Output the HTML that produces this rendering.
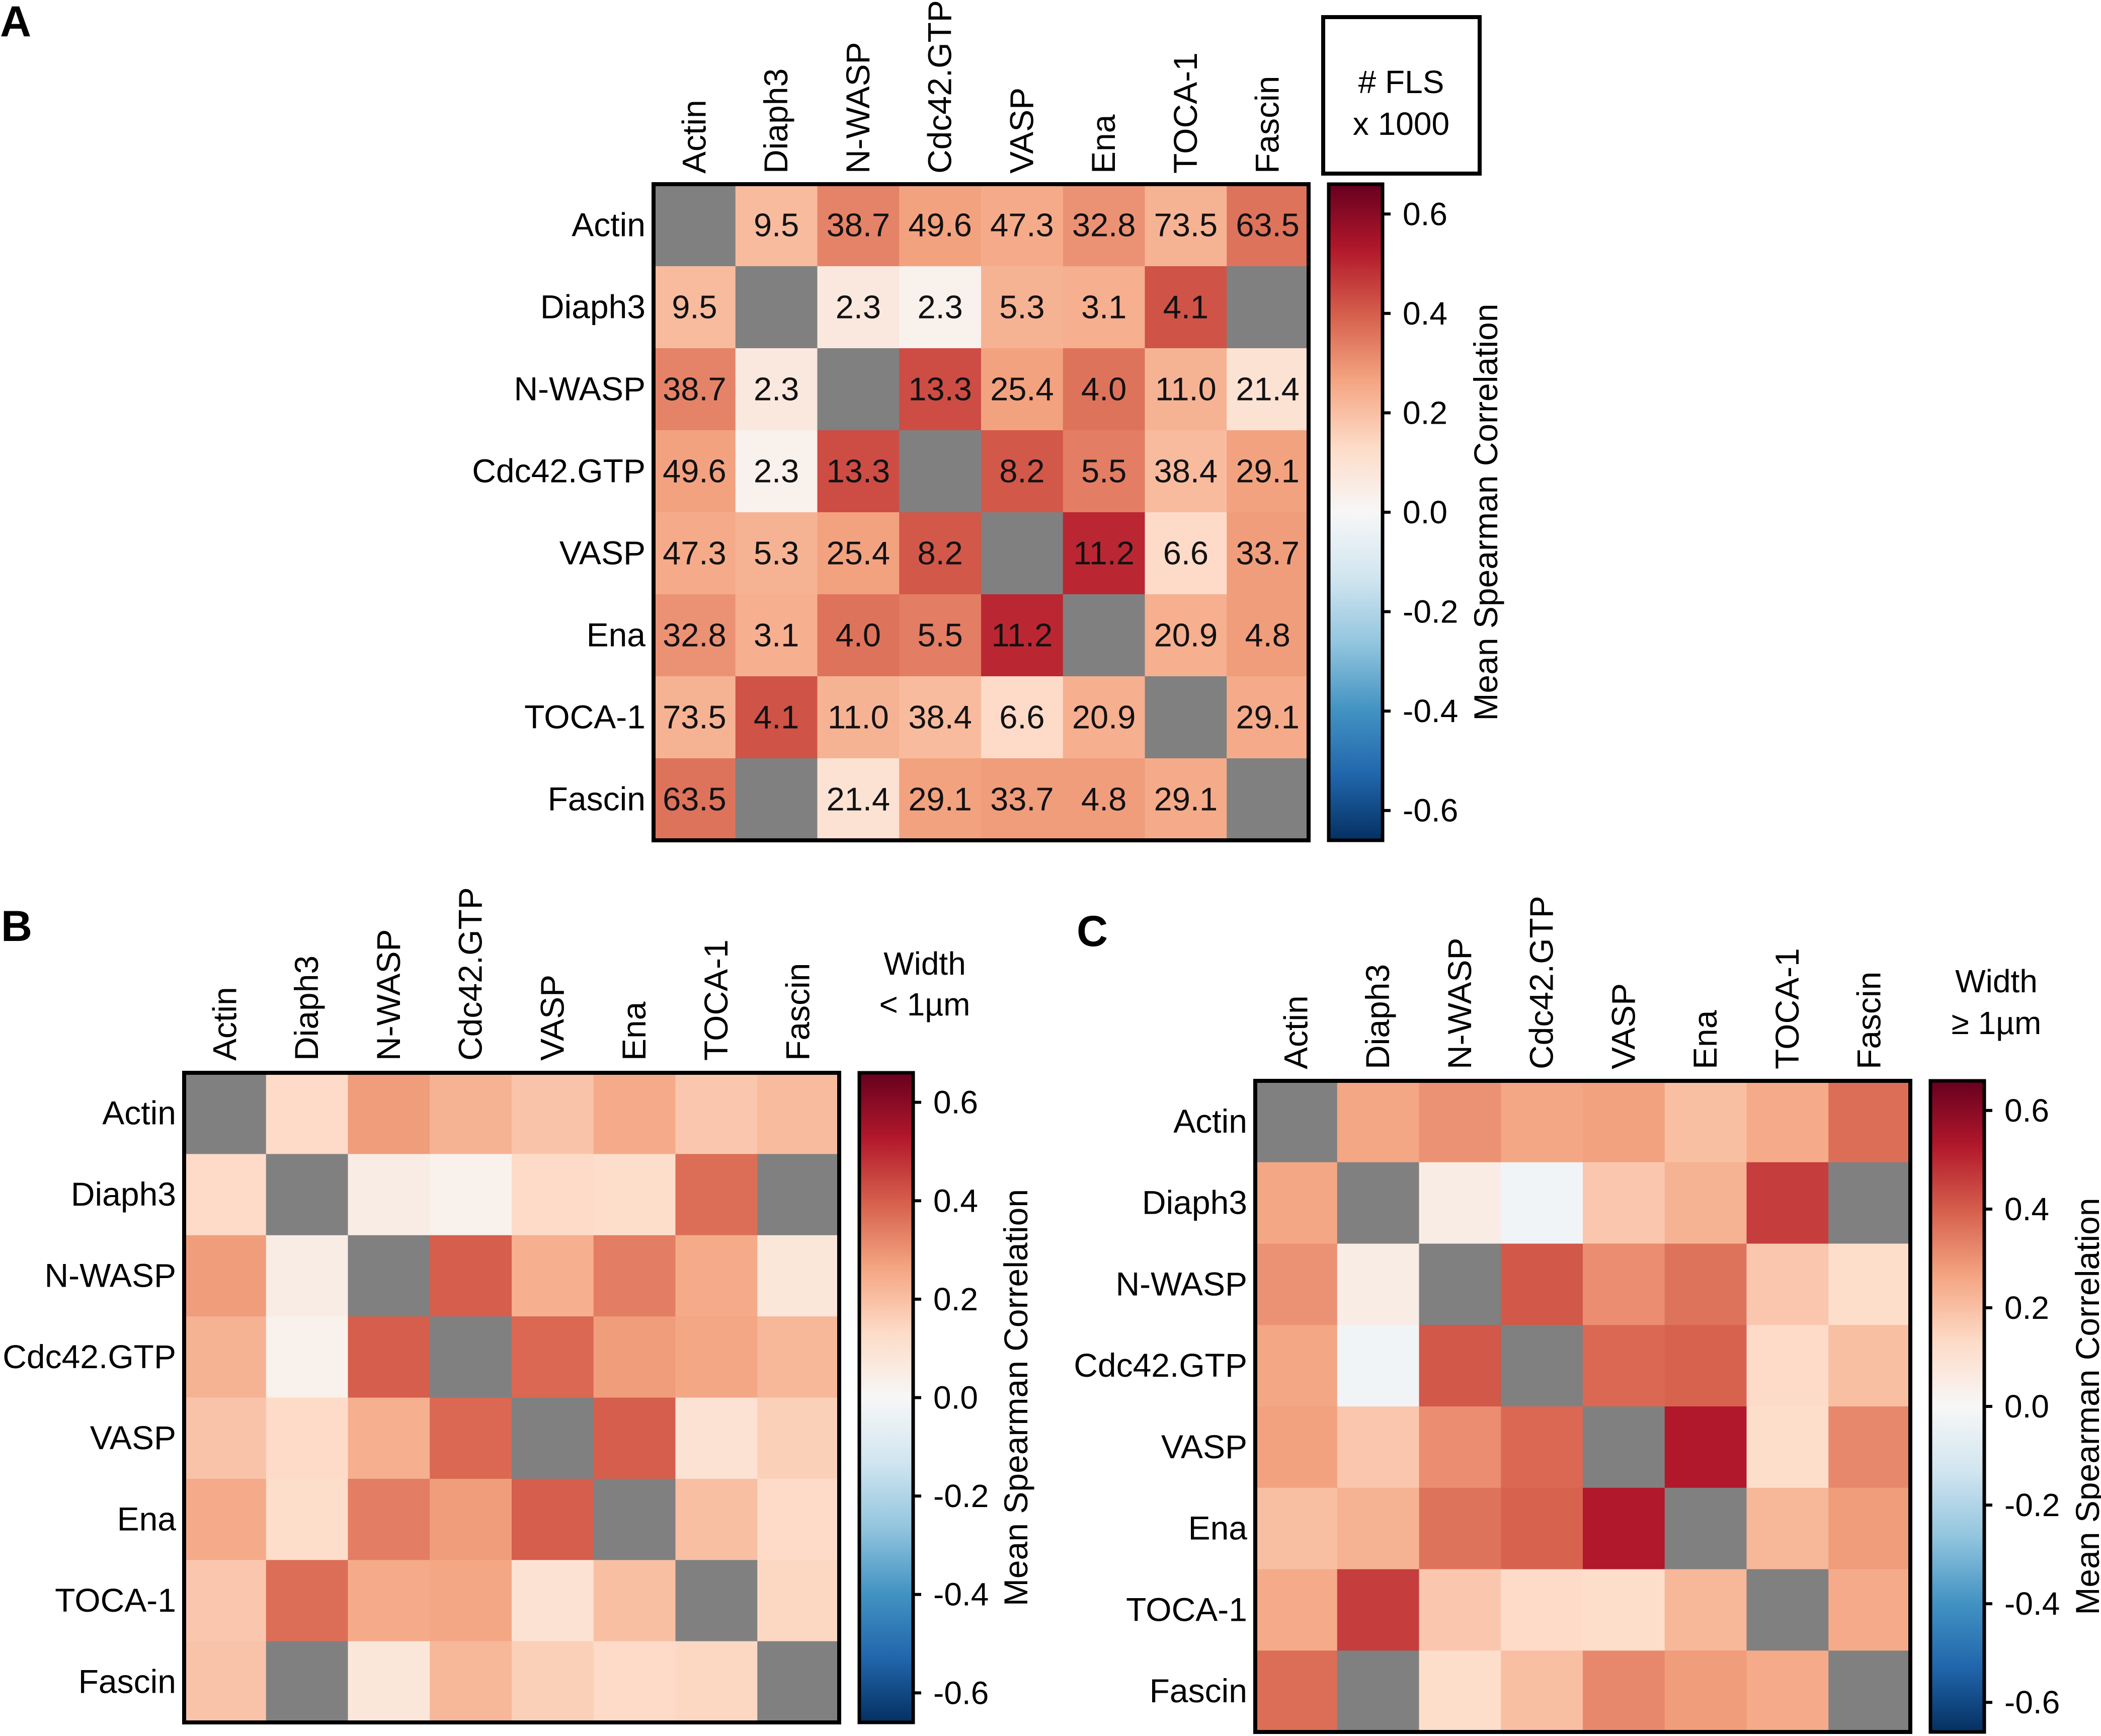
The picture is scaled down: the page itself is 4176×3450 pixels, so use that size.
<!DOCTYPE html>
<html><head><meta charset="utf-8">
<style>
html,body{margin:0;padding:0;background:#fff;}
svg{display:block;font-family:"Liberation Sans",Arial,sans-serif;}
</style></head>
<body>
<svg id="fig" width="4176" height="3450" viewBox="0 0 4176 3450" xmlns="http://www.w3.org/2000/svg">
<defs>
<linearGradient id="cbgrad" x1="0" y1="1" x2="0" y2="0">
<stop offset="0" stop-color="#053061"/><stop offset="0.1" stop-color="#2166ac"/><stop offset="0.2" stop-color="#4393c3"/><stop offset="0.3" stop-color="#92c5de"/><stop offset="0.4" stop-color="#d1e5f0"/><stop offset="0.5" stop-color="#f7f7f7"/><stop offset="0.6" stop-color="#fddbc7"/><stop offset="0.7" stop-color="#f4a582"/><stop offset="0.8" stop-color="#d6604d"/><stop offset="0.9" stop-color="#b2182b"/><stop offset="1" stop-color="#67001f"/>
</linearGradient>
</defs>
</svg>
<script>
const labels = ["Actin","Diaph3","N-WASP","Cdc42.GTP","VASP","Ena","TOCA-1","Fascin"];
const cbTicks = [0.6,0.4,0.2,0.0,-0.2,-0.4,-0.6];
const cbTickLabels = ["0.6","0.4","0.2","0.0","-0.2","-0.4","-0.6"];
const N = null;
const corrA = [
 [N,0.21,0.33,0.27,0.25,0.30,0.23,0.36],
 [0.21,N,0.07,0.03,0.23,0.24,0.42,N],
 [0.33,0.07,N,0.43,0.27,0.36,0.23,0.10],
 [0.27,0.03,0.43,N,0.41,0.34,0.21,0.27],
 [0.25,0.23,0.27,0.41,N,0.50,0.13,0.28],
 [0.30,0.24,0.36,0.34,0.50,N,0.24,0.28],
 [0.23,0.42,0.23,0.21,0.13,0.24,N,0.25],
 [0.36,N,0.10,0.27,0.28,0.28,0.25,N]];
const flsA = [
 ["","9.5","38.7","49.6","47.3","32.8","73.5","63.5"],
 ["9.5","","2.3","2.3","5.3","3.1","4.1",""],
 ["38.7","2.3","","13.3","25.4","4.0","11.0","21.4"],
 ["49.6","2.3","13.3","","8.2","5.5","38.4","29.1"],
 ["47.3","5.3","25.4","8.2","","11.2","6.6","33.7"],
 ["32.8","3.1","4.0","5.5","11.2","","20.9","4.8"],
 ["73.5","4.1","11.0","38.4","6.6","20.9","","29.1"],
 ["63.5","","21.4","29.1","33.7","4.8","29.1",""]];
const corrB = [
 [N,0.13,0.28,0.23,0.19,0.25,0.18,0.21],
 [0.13,N,0.05,0.03,0.13,0.12,0.37,N],
 [0.28,0.05,N,0.40,0.24,0.34,0.25,0.08],
 [0.23,0.03,0.40,N,0.38,0.28,0.26,0.22],
 [0.19,0.13,0.24,0.38,N,0.40,0.10,0.16],
 [0.25,0.12,0.34,0.28,0.40,N,0.20,0.13],
 [0.18,0.37,0.25,0.26,0.10,0.20,N,0.14],
 [0.19,N,0.08,0.22,0.16,0.13,0.14,N]];
const corrC = [
 [N,0.26,0.30,0.26,0.27,0.20,0.25,0.37],
 [0.26,N,0.05,-0.02,0.18,0.23,0.46,N],
 [0.30,0.05,N,0.41,0.31,0.36,0.18,0.12],
 [0.26,-0.02,0.41,N,0.38,0.39,0.13,0.20],
 [0.27,0.18,0.31,0.38,N,0.53,0.12,0.32],
 [0.20,0.23,0.36,0.39,0.53,N,0.22,0.28],
 [0.25,0.46,0.18,0.13,0.12,0.22,N,0.25],
 [0.37,N,0.12,0.20,0.32,0.28,0.25,N]];

const VMIN=-0.66, VMAX=0.66;
const stops=["#053061","#2166ac","#4393c3","#92c5de","#d1e5f0","#f7f7f7","#fddbc7","#f4a582","#d6604d","#b2182b","#67001f"];
function hex(h){return [1,3,5].map(i=>parseInt(h.substr(i,2),16));}
function cmap(v){
  let t=(v-VMIN)/(VMAX-VMIN); t=Math.max(0,Math.min(1,t));
  const p=t*10, i=Math.min(9,Math.floor(p)), f=p-i;
  const a=hex(stops[i]), b=hex(stops[i+1]);
  return "rgb("+a.map((c,k)=>Math.round(c+(b[k]-c)*f)).join(",")+")";
}
const NS="http://www.w3.org/2000/svg";
const svg=document.getElementById("fig");
function mk(tag,attrs,parent,txt){
  const e=document.createElementNS(NS,tag);
  for(const k in attrs)e.setAttribute(k,attrs[k]);
  if(txt!==undefined)e.textContent=txt;
  (parent||svg).appendChild(e);return e;
}
function panel(id,P,corr,vals){
  const g=mk("g",{});
  
  
  const cw=(P.x1-P.x0)/8, ch=(P.y1-P.y0)/8;
  const xs=i=>P.x0+i*cw, ys=j=>P.y0+j*ch;
  for(let r=0;r<8;r++)for(let c=0;c<8;c++){
    const v=corr[r][c];
    const rect=mk("rect",{x:xs(c),y:ys(r),width:cw+0.8,height:ch+0.8,fill:v===null?"#808080":cmap(v)},g);
    
    
    if(vals&&vals[r][c]){
      const t=mk("text",{x:xs(c)+cw/2,y:ys(r)+ch/2+22,"font-size":65,"text-anchor":"middle",fill:"#111"},g,vals[r][c]);
      
      
    }
  }
  const fr=mk("rect",{x:P.x0,y:P.y0,width:P.x1-P.x0,height:P.y1-P.y0,fill:"none",stroke:"#000","stroke-width":8},g);
  
  
  for(let i=0;i<8;i++){
    const rl=mk("text",{x:P.x0-16,y:ys(i)+ch/2+22,"font-size":66,"text-anchor":"end"},g,labels[i]);
    
    
    const cx=xs(i)+cw/2;
    const cl=mk("text",{transform:"translate("+(cx+22)+","+P.colBottom+") rotate(-90)","font-size":66,"text-anchor":"start"},g,labels[i]);
    
    
  }
  const cy=v=>P.y1-(v-VMIN)/(VMAX-VMIN)*(P.y1-P.y0);
  const cb=mk("rect",{x:P.cb0,y:P.y0,width:P.cb1-P.cb0,height:P.y1-P.y0,fill:"url(#cbgrad)",stroke:"#000","stroke-width":7},g);
  
  
  cbTicks.forEach((v,i)=>{
    mk("line",{x1:P.cb1,x2:P.cb1+16,y1:cy(v),y2:cy(v),stroke:"#000","stroke-width":6},g);
    const tl=mk("text",{x:P.cb1+40,y:cy(v)+22,"font-size":64},g,cbTickLabels[i]);
    
    
  });
  const at=mk("text",{transform:"translate("+P.titleX+","+(P.y0+P.y1)/2+") rotate(-90)","font-size":66,"text-anchor":"middle"},g,"Mean Spearman Correlation");
  
  
  const pl=mk("text",{x:P.lx,y:P.ly,"font-size":86,"font-weight":"bold"},g,id);
  
  
  return g;
}
const gA=panel("A",{x0:1299,x1:2601,y0:366,y1:1670,cb0:2641,cb1:2748,titleX:2976,colBottom:345,lx:0,ly:72},corrA,flsA);
const gB=panel("B",{x0:366,x1:1668,y0:2132,y1:3423,cb0:1708,cb1:1815,titleX:2042,colBottom:2108,lx:2,ly:1870},corrB,null);
const gC=panel("C",{x0:2495,x1:3797,y0:2148,y1:3442,cb0:3837,cb1:3944,titleX:4172,colBottom:2125,lx:2140,ly:1880},corrC,null);
const box=mk("rect",{x:2630,y:34,width:311,height:311,fill:"none",stroke:"#000","stroke-width":8});


const t1=mk("text",{x:2785,y:185,"font-size":64,"text-anchor":"middle"},svg,"# FLS");


const t2=mk("text",{x:2785,y:268,"font-size":64,"text-anchor":"middle"},svg,"x 1000");


const b1=mk("text",{x:1838,y:1937,"font-size":64,"text-anchor":"middle"},svg,"Width");


const b2=mk("text",{x:1838,y:2018,"font-size":64,"text-anchor":"middle"},svg,"< 1µm");


const c1=mk("text",{x:3968,y:1972,"font-size":64,"text-anchor":"middle"},svg,"Width");


const c2=mk("text",{x:3968,y:2055,"font-size":64,"text-anchor":"middle"},svg,"≥ 1µm");


</script>
</body></html>
